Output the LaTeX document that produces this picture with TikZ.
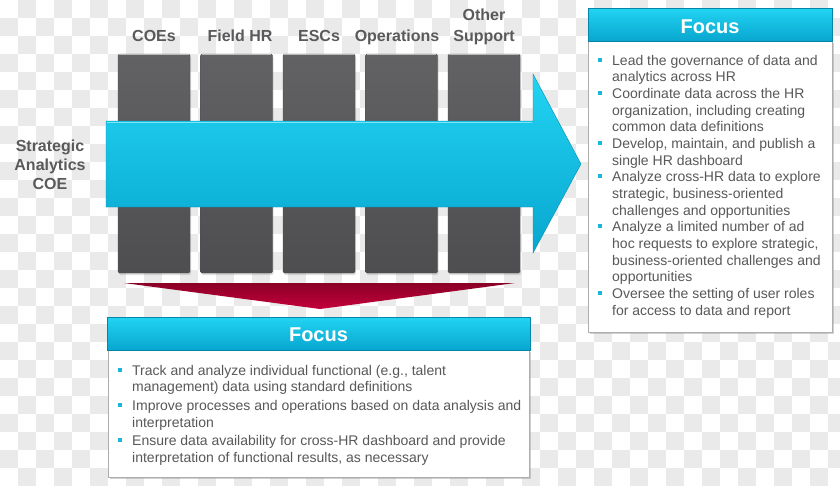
\documentclass[tikz,border=0pt]{standalone}
\usepackage{fontspec}
\setmainfont{Liberation Sans}
\usetikzlibrary{shadows}
\definecolor{chk}{HTML}{EAEAEA}
\definecolor{txt}{HTML}{585858}
\definecolor{lbl}{HTML}{5A5A5C}
\definecolor{boxtop}{HTML}{626264}
\definecolor{boxbot}{HTML}{4E4E50}
\definecolor{cyantop}{HTML}{22D4F2}
\definecolor{cyanbot}{HTML}{08A6CF}
\definecolor{redtop}{HTML}{8A0026}
\definecolor{redbot}{HTML}{C4003A}
\definecolor{bul}{HTML}{1AB6DC}
\begin{document}
\begin{tikzpicture}[x=1pt,y=-1pt,
  graybox/.style={rectangle, inner sep=0, minimum width=72pt, minimum height=219pt,
    top color=boxtop, bottom color=boxbot, draw=boxbot, rounded corners=1.5pt,
    drop shadow={opacity=0.25, shadow xshift=1pt, shadow yshift=-2pt}},
  toplabel/.style={font=\fontsize{16}{19}\selectfont\bfseries, text=lbl, inner sep=0, anchor=base},
  header/.style={rectangle, inner sep=0, top color=cyantop, bottom color=cyanbot,
    draw=cyanbot!80!black, line width=0.4pt, minimum height=33pt,
    font=\fontsize{20}{24}\selectfont\bfseries, text=white},
  bodybox/.style={rectangle, inner sep=0, fill=white, draw=black!32, line width=0.8pt,
    drop shadow={opacity=0.35, shadow xshift=2pt, shadow yshift=-2pt}},
  bultext/.style={font=\fontsize{14}{16.67}\selectfont, text=txt, align=left, inner sep=0, anchor=base west},
  bulsq/.style={rectangle, fill=bul, inner sep=0, minimum size=4pt}
]
\useasboundingbox (0,0) rectangle (840,485);
% checkerboard background
\fill[white] (0,0) rectangle (840,485);
\foreach \i in {0,...,46}{
  \foreach \j in {0,...,26}{
    \pgfmathtruncatemacro{\k}{mod(\i+\j,2)}
    \ifnum\k=1
      \fill[chk] (\i*18,\j*18) rectangle ++(18,18);
    \fi
  }
}
% gray columns
\node[graybox] (g1) at (154,163.5) {};
\node[graybox] (g2) at (236.5,163.5) {};
\node[graybox] (g3) at (319,163.5) {};
\node[graybox] (g4) at (401.5,163.5) {};
\node[graybox] (g5) at (484,163.5) {};
\foreach \n in {g1,g2,g3,g4,g5}{
  \draw[white!55!boxtop, line width=0.8pt] ([xshift=1.5pt,yshift=-0.6pt]\n.north west) -- ([xshift=-1.5pt,yshift=-0.6pt]\n.north east);
}
% top labels
\node[toplabel] (l1) at (154,41) {COEs};
\node[toplabel] (l2) at (240,41) {Field HR};
\node[toplabel] (l3) at (319,41) {ESCs};
\node[toplabel] (l4) at (397,41) {Operations};
\node[toplabel, align=center, font=\fontsize{16}{20.3}\selectfont\bfseries] (l5) at (484,41) {Other\\Support};
% left label
\node[toplabel, align=center, font=\fontsize{16}{18.7}\selectfont\bfseries] (sa) at (50,189.1) {Strategic\\Analytics\\COE};
% big cyan arrow
\shade[top color=cyantop, bottom color=cyanbot, draw=cyanbot!85!black, line width=0.4pt]
  (106,121) -- (533,121) -- (533,74) -- (581,164) -- (533,253) -- (533,207) -- (106,207) -- cycle;
\draw[white!40!cyantop, line width=1pt] (107,122) -- (532,122);
% red triangle
\shade[top color=redtop, bottom color=redbot] (124,283) -- (515,283) -- (320,309) -- cycle;
% right focus box
\node[bodybox, minimum width=244pt, minimum height=291pt] (rb) at (710,186.5) {};
\node[header, minimum width=244pt] (rh) at (710,24.5) {};
\node[font=\fontsize{20}{24}\selectfont\bfseries, text=white, inner sep=0, anchor=base] (rht) at (710,33.3) {Focus};
% bottom focus box
\node[bodybox, minimum width=421pt, minimum height=127pt] (bb) at (318.5,413.5) {};
\node[header, minimum width=423pt] (bh) at (318.5,333.5) {};
\node[font=\fontsize{20}{24}\selectfont\bfseries, text=white, inner sep=0, anchor=base] (bht) at (318.5,341.7) {Focus};
% right bullets (anchored at baseline of last line)
\node[bultext] (r1) at (612,81.67) {Lead the governance of data and\\analytics across HR};
\node[bultext] (r2) at (612,131.67) {Coordinate data across the HR\\organization, including creating\\common data definitions};
\node[bultext] (r3) at (612,165) {Develop, maintain, and publish a\\single HR dashboard};
\node[bultext] (r4) at (612,215) {Analyze cross-HR data to explore\\strategic, business-oriented\\challenges and opportunities};
\node[bultext] (r5) at (612,281.7) {Analyze a limited number of ad\\hoc requests to explore strategic,\\business-oriented challenges and\\opportunities};
\node[bultext] (r6) at (612,315) {Oversee the setting of user roles\\for access to data and report};
\foreach \y [count=\c] in {65,98.3,148.3,181.7,231.7,298.3}{
  \node[bulsq] (rs\c) at (600,\y-5.5) {};
}
% bottom bullets
\node[bultext] (t1) at (132,391.67) {Track and analyze individual functional (e.g., talent\\management) data using standard definitions};
\node[bultext] (t2) at (132,427.2) {Improve processes and operations based on data analysis and\\interpretation};
\node[bultext] (t3) at (132,462.4) {Ensure data availability for cross-HR dashboard and provide\\interpretation of functional results, as necessary};
\foreach \y [count=\c] in {375,410.5,445.7}{
  \node[bulsq] (ts\c) at (120,\y-5.5) {};
}
\end{tikzpicture}
\end{document}
